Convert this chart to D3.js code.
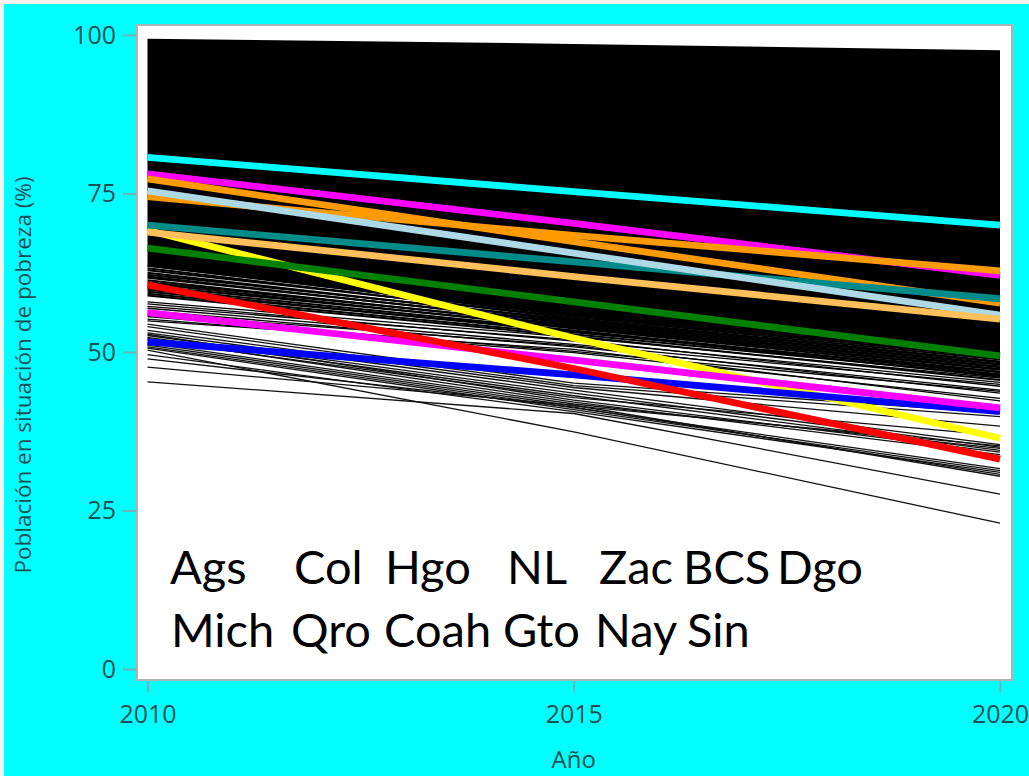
<!DOCTYPE html>
<html><head><meta charset="utf-8">
<script src="https://cdn.jsdelivr.net/npm/d3@7"></script>
<style>html,body{margin:0;padding:0;background:#f6f3ee;overflow:hidden}svg{display:block}</style>
</head><body><svg id="c" width="1029" height="776"></svg>
<script>
const years = [2010, 2015, 2020];
const xTicks = [2010, 2015, 2020];
const yTicks = [0, 25, 50, 75, 100];
const xTitle = "Año";
const yTitle = "Población en situación de pobreza (%)";
const labelsRow1 = ["Ags", "Col", "Hgo", "NL", "Zac", "BCS", "Dgo"];
const labelsRow2 = ["Mich", "Qro", "Coah", "Gto", "Nay", "Sin"];

// Dense mass of municipalities, too tight to separate: read as an envelope.
const denseTop = [99.4, 98.6, 97.6];
const denseBottom = [63.5, 55.6, 49.0];

// Tightly packed municipality lines just below the mass: 2010, 2015, 2020
const packedLines = [
 [63.6,55.7,49.1],[63.2,55.3,48.5],[62.9,55.5,48.8],[62.5,54.9,48.1],[62.2,55.1,48.4],
 [61.9,54.5,47.7],[61.7,54.7,48.0],[61.3,54.1,47.3],[61.0,54.3,47.6],[60.8,53.7,46.9],
 [60.4,53.9,47.2],[60.1,53.4,46.5],[59.8,53.1,46.8],[59.5,53.3,46.1],[59.2,52.8,46.3],
 [58.9,52.5,45.6]
];
// Looser municipality lines with white gaps between them: 2010, 2015, 2020
const looseLines = [
 [57.9,52.3,45.9],[57.6,51.7,45.2],[57.2,51.9,44.6],[56.9,51.2,44.9],[56.5,50.8,44.0],
 [56.0,51.0,43.5],[55.6,50.1,43.8],[55.2,49.9,42.7],[54.9,50.4,42.3]
];
// Separable lower municipality lines: 2010, 2015, 2020
const thinLines = [
 [54.4,45.1,40.4],[54.0,44.7,39.8],[53.4,44.4,38.3],[53.0,44.0,35.4],[52.6,43.5,35.0],
 [52.3,43.1,34.5],[51.9,42.8,36.8],[52.8,42.4,34.2],[52.1,42.1,33.8],[51.4,41.8,34.8],
 [51.1,41.5,35.2],[50.8,41.2,31.6],[50.6,40.9,31.3],[49.6,40.6,31.0],[48.9,41.3,30.7],
 [47.6,41.6,30.4],[45.3,40.3,27.6],[50.3,37.4,23.0]
];

// Highlighted states, listed in drawing order
const highlightColors = ["#ffff00","#0000ff","#ff00ff","#ff0000","#ff00ff","#00ffff","#ff9a00","#ff9a00","#008b8b","#add8e6","#ffc05c","#008000"];
const yellowVals  = [69.2,52.2,36.4];
const blueVals    = [51.6,46.4,40.6];
const violetVals  = [56.2,48.7,41.2];
const redVals     = [60.6,47.4,33.1];
const magentaVals = [78.1,70.3,62.1];
const cyanVals    = [80.7,75.3,70.0];
const orangeBVals = [74.5,68.4,62.8];
const orangeAVals = [77.3,67.4,57.7];
const tealVals    = [70.0,64.2,58.4];
const lightVals   = [75.4,65.6,55.8];
const sandyVals   = [68.9,61.9,55.2];
const greenVals   = [66.4,57.9,49.4];
const highlightVals = [yellowVals,blueVals,violetVals,redVals,magentaVals,cyanVals,orangeBVals,orangeAVals,tealVals,lightVals,sandyVals,greenVals];

const labelColumnsRow1 = [170,294,385,507,599,683,777];
const labelColumnsRow2 = [171,291,384,503,595,687];

const svg = d3.select("#c");
svg.append("rect").attr("x",4).attr("y",4).attr("width",1025).attr("height",772).attr("fill","#00ffff");
svg.append("rect").attr("x",137).attr("y",25).attr("width",875).attr("height",655)
   .attr("fill","#fff").attr("stroke","#a9b4b4").attr("stroke-width",2);

const x = d3.scaleLinear().domain([2010,2020]).range([147.5,1000]);
const y = d3.scaleLinear().domain([0,100]).range([669,35]);
const line = d3.line().x((d,i)=>x(years[i])).y(d=>y(d));
const area = d3.area().x((d,i)=>x(years[i])).y0((d,i)=>y(denseBottom[i])).y1(d=>y(d));

svg.append("path").datum(denseTop).attr("d",area).attr("fill","#000");
svg.append("g").selectAll("path").data(packedLines).join("path")
   .attr("d",line).attr("fill","none").attr("stroke","#000").attr("stroke-width",2);
svg.append("g").selectAll("path").data(looseLines).join("path")
   .attr("d",line).attr("fill","none").attr("stroke","#000").attr("stroke-width",1.3);
svg.append("g").selectAll("path").data(thinLines).join("path")
   .attr("d",line).attr("fill","none").attr("stroke","#111").attr("stroke-width",1.3);
svg.append("g").selectAll("path").data(highlightVals).join("path")
   .attr("d",line).attr("fill","none").attr("stroke",(d,i)=>highlightColors[i]).attr("stroke-width",6.8);

const axisColor = "#6fb3b3", textColor = "#1d5054", axisFont = "'Open Sans', sans-serif";
const gx = svg.append("g").attr("transform","translate(0,681)")
   .call(d3.axisBottom(x).tickValues(xTicks).tickFormat(d3.format("d")).tickSize(11).tickPadding(8));
const gy = svg.append("g").attr("transform","translate(136,0)")
   .call(d3.axisLeft(y).tickValues(yTicks).tickSize(13).tickPadding(7));
[gx,gy].forEach(g=>{
  g.select(".domain").remove();
  g.selectAll("line").attr("stroke",axisColor).attr("stroke-width",2);
  g.selectAll("text").attr("fill",textColor).style("font-family",axisFont);
});
gy.selectAll("text").style("font-size","25px");
gx.selectAll("text").style("font-size","25px").attr("dy","0.9em");

svg.append("text").attr("x",x(2015)).attr("y",768).attr("text-anchor","middle")
   .attr("fill",textColor).style("font-family",axisFont).style("font-size","24px").text(xTitle);
svg.append("text").attr("transform","translate(31,375) rotate(-90)").attr("text-anchor","middle")
   .attr("fill",textColor).style("font-family",axisFont).style("font-size","22.5px").text(yTitle);

const lab = svg.append("g").style("font-family","Lato, sans-serif").style("font-size","47px").attr("fill","#000");
lab.selectAll(".r1").data(labelsRow1).join("text").attr("class","r1")
   .attr("x",(d,i)=>labelColumnsRow1[i]).attr("y",584).text(d=>d);
lab.selectAll(".r2").data(labelsRow2).join("text").attr("class","r2")
   .attr("x",(d,i)=>labelColumnsRow2[i]).attr("y",647).text(d=>d);
</script></body></html>
